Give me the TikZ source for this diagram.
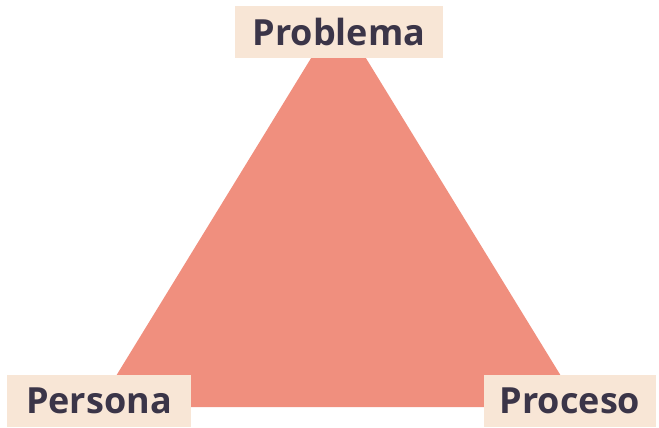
\documentclass[tikz,border=0pt]{standalone}
\usepackage{fontspec}
\setmainfont{Open Sans}
\usepackage{xcolor}
\usepackage{tikz}
\usetikzlibrary{positioning}
\definecolor{salmon}{HTML}{F08F7E}
\definecolor{sand}  {HTML}{F8E6D6}
\definecolor{ink}   {HTML}{3B3548}

\begin{document}
\begin{tikzpicture}[x=1pt,y=-1pt,
    corner/.style={fill=sand,text=ink,inner sep=0pt,minimum height=52pt,
                   font=\fontsize{36}{42}\selectfont\bfseries}]
  \useasboundingbox (0,0) rectangle (659,428);

  % triangle
  \coordinate (top)   at (338.5,13.4);
  \coordinate (left)  at (97,407);
  \coordinate (right) at (580,407);
  \fill[salmon] (top) -- (right) -- (left) -- cycle;

  % labels
  \node[corner,minimum width=208pt] (problema) at (339,32.5) {Problema};
  \node[corner,minimum width=184pt] (persona)  at (99,401)   {Persona};
  \node[corner,minimum width=172pt] (proceso)  at (570,401)  {Proceso};
\end{tikzpicture}
\end{document}
